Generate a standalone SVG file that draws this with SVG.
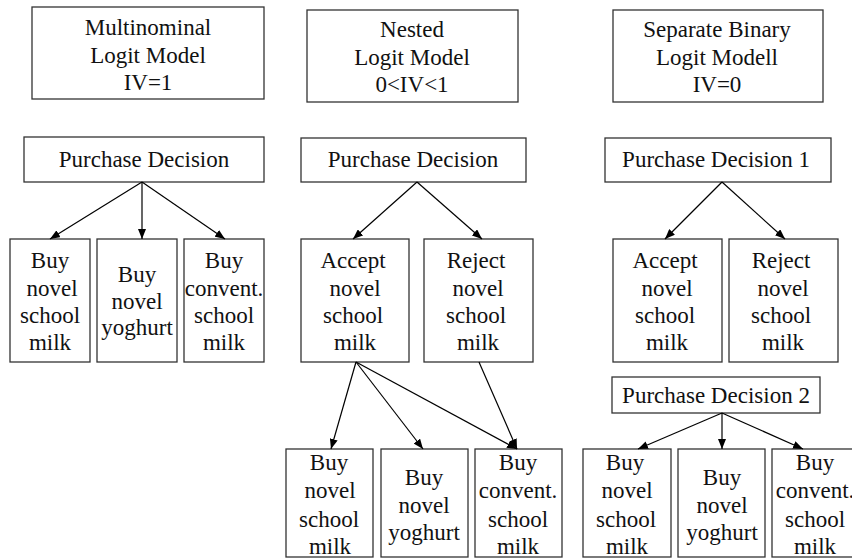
<svg xmlns="http://www.w3.org/2000/svg" width="852" height="559" viewBox="0 0 852 559">
<style>
rect{fill:#fff;stroke:#333;stroke-width:1.3}
text{font-family:"Liberation Serif","Times New Roman",serif;font-size:23px;fill:#111;text-anchor:middle}
.c line{stroke:#000;stroke-width:1.2;marker-end:url(#ah)}
</style>
<defs>
<marker id="ah" markerUnits="userSpaceOnUse" markerWidth="10" markerHeight="8" refX="10" refY="4" orient="auto">
<path d="M0,0 L10,4 L0,8 z" fill="#000"/>
</marker>
</defs>
<rect x="0" y="0" width="852" height="559" style="stroke:none"/>
<g id="mnl-title"><rect x="32" y="7" width="232" height="92"/><text x="148" y="35">Multinominal</text><text x="148" y="62.5">Logit Model</text><text x="148" y="90">IV=1</text></g>
<g id="nl-title"><rect x="307" y="10" width="211" height="92"/><text x="412" y="37">Nested</text><text x="412" y="64.5">Logit Model</text><text x="412" y="92">0&lt;IV&lt;1</text></g>
<g id="sbl-title"><rect x="613" y="10" width="210" height="92"/><text x="717" y="37">Separate Binary</text><text x="717" y="64.5">Logit Modell</text><text x="717" y="92">IV=0</text></g>

<g id="mnl-pd"><rect x="24" y="137" width="240" height="45"/><text x="144" y="167">Purchase Decision</text></g>
<g id="mnl-a"><rect x="10" y="239" width="80" height="123"/><text x="50" y="268">Buy</text><text x="52" y="296">novel</text><text x="50" y="323">school</text><text x="50" y="350">milk</text></g>
<g id="mnl-b"><rect x="97" y="239" width="80" height="123"/><text x="137" y="282">Buy</text><text x="137" y="309">novel</text><text x="137" y="335">yoghurt</text></g>
<g id="mnl-c"><rect x="184" y="239" width="80" height="123"/><text x="224" y="268">Buy</text><text x="224" y="296">convent.</text><text x="224" y="323">school</text><text x="224" y="350">milk</text></g>

<g id="nl-pd"><rect x="301" y="138" width="225" height="44"/><text x="413" y="167">Purchase Decision</text></g>
<g id="nl-accept"><rect x="301" y="239" width="108" height="123"/><text x="353" y="268">Accept</text><text x="355" y="296">novel</text><text x="353" y="323">school</text><text x="355" y="350">milk</text></g>
<g id="nl-reject"><rect x="424" y="239" width="109" height="123"/><text x="476" y="268">Reject</text><text x="478" y="296">novel</text><text x="476" y="323">school</text><text x="478" y="350">milk</text></g>
<g id="nl-a"><rect x="286" y="449" width="87" height="108"/><text x="329" y="470">Buy</text><text x="330" y="498">novel</text><text x="329" y="527">school</text><text x="330" y="554">milk</text></g>
<g id="nl-b"><rect x="381" y="449" width="87" height="108"/><text x="424" y="485">Buy</text><text x="424" y="513">novel</text><text x="424" y="540">yoghurt</text></g>
<g id="nl-c"><rect x="475" y="449" width="87" height="108"/><text x="518" y="470">Buy</text><text x="518" y="498">convent.</text><text x="518" y="527">school</text><text x="518" y="554">milk</text></g>

<g id="sbl-pd1"><rect x="605" y="138" width="226" height="44"/><text x="716" y="167">Purchase Decision 1</text></g>
<g id="sbl-accept"><rect x="613" y="239" width="109" height="123"/><text x="665" y="268">Accept</text><text x="667" y="296">novel</text><text x="665" y="323">school</text><text x="667" y="350">milk</text></g>
<g id="sbl-reject"><rect x="729" y="239" width="109" height="123"/><text x="781" y="268">Reject</text><text x="783" y="296">novel</text><text x="781" y="323">school</text><text x="783" y="350">milk</text></g>
<g id="sbl-pd2"><rect x="612" y="377" width="208" height="36"/><text x="716" y="403">Purchase Decision 2</text></g>
<g id="sbl-a"><rect x="583" y="449" width="88" height="108"/><text x="625" y="470">Buy</text><text x="627" y="498">novel</text><text x="626" y="527">school</text><text x="627" y="554">milk</text></g>
<g id="sbl-b"><rect x="678" y="449" width="87" height="108"/><text x="722" y="485">Buy</text><text x="722" y="513">novel</text><text x="722" y="540">yoghurt</text></g>
<g id="sbl-c"><rect x="772" y="449" width="87" height="108"/><text x="815" y="470">Buy</text><text x="815" y="498">convent.</text><text x="815" y="527">school</text><text x="815" y="554">milk</text></g>

<g class="c" id="connectors">
<line x1="142" y1="182" x2="50" y2="239"/>
<line x1="142" y1="182" x2="142" y2="239"/>
<line x1="142" y1="182" x2="225" y2="239"/>
<line x1="417" y1="182" x2="353" y2="239"/>
<line x1="417" y1="182" x2="482" y2="239"/>
<line x1="356" y1="362" x2="331" y2="449"/>
<line x1="356" y1="362" x2="423" y2="449"/>
<line x1="356" y1="362" x2="517" y2="449"/>
<line x1="479" y1="362" x2="517" y2="449"/>
<line x1="722" y1="182" x2="665" y2="239"/>
<line x1="722" y1="182" x2="785" y2="239"/>
<line x1="722" y1="413" x2="638" y2="449"/>
<line x1="722" y1="413" x2="722" y2="449"/>
<line x1="722" y1="413" x2="803" y2="449"/>
</g>
</svg>
